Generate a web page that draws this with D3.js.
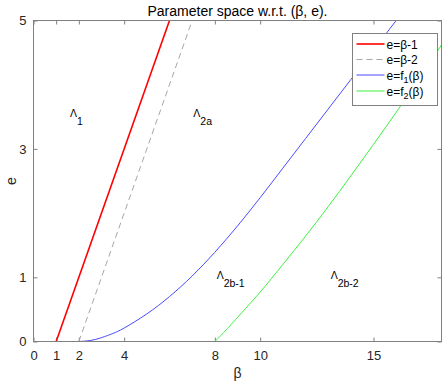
<!DOCTYPE html>
<html>
<head>
<meta charset="UTF-8">
<title>Parameter space w.r.t. (β, e).</title>
<script src="https://d3js.org/d3.v7.min.js"></script>
<style>
  body { margin: 0; background: #fff; }
  svg { font-family: "Liberation Sans", Arial, sans-serif; }
  .tick line { stroke: #808080; }
  .tick text { fill: #262626; font-size: 13px; }
</style>
</head>
<body>
<div id="chart"></div>
<script>
  // tick values
  const xTicks = [0, 1, 2, 4, 8, 10, 15];
  const yTicks = [0, 1, 3, 5];

  // e = β-1 and e = β-2 (end points inside the box)
  const line1Beta = [1, 6];
  const line1E = [0, 5];
  const line2Beta = [2, 7];
  const line2E = [0, 5];

  // e = f1(β)
  const f1Beta = [2, 2.5, 3, 3.5, 4, 5, 6, 7, 8, 9, 10, 11, 12, 13, 14, 15, 16];
  const f1E = [0, 0.015, 0.06, 0.125, 0.21, 0.43, 0.70, 1.02, 1.39, 1.80, 2.24, 2.70, 3.16, 3.62, 4.08, 4.54, 5.0];

  // e = f2(β)
  const f2Beta = [8, 8.5, 9, 10, 11, 12, 13, 14, 15, 16, 17, 18];
  const f2E = [0, 0.18, 0.375, 0.77, 1.2, 1.64, 2.1, 2.58, 3.07, 3.57, 4.08, 4.62];

  // region labels Λ_x
  const regionNames = ["1", "2a", "2b-1", "2b-2"];
  const regionBeta = [1.61, 7.05, 8.08, 13.11];
  const regionE = [3.49, 3.49, 0.97, 0.97];

  const legendMain = ["e=β-1", "e=β-2", "e=f", "e=f"];
  const legendSub = ["", "", "1", "2"];
  const legendTail = ["", "", "(β)", "(β)"];

  const W = 448, H = 386;
  const box = { left: 33.5, right: 441.5, top: 20.5, bottom: 341.5 };

  const svg = d3.select("#chart").append("svg")
    .attr("width", W).attr("height", H);

  const x = d3.scaleLinear().domain([0, 18]).range([box.left, box.right]);
  const y = d3.scaleLinear().domain([0, 5]).range([box.bottom, box.top]);

  svg.append("clipPath").attr("id", "clip")
    .append("rect")
    .attr("x", box.left).attr("y", box.top)
    .attr("width", box.right - box.left).attr("height", box.bottom - box.top);

  // axes (ticks inside, MATLAB style)
  svg.append("g")
    .attr("transform", `translate(0,${box.bottom})`)
    .call(d3.axisBottom(x).tickValues(xTicks).tickSizeInner(-4).tickSizeOuter(0).tickPadding(9.5).tickFormat(d3.format("d")))
    .call(g => g.select(".domain").remove());
  svg.append("g")
    .attr("transform", `translate(0,${box.top})`)
    .call(d3.axisTop(x).tickValues(xTicks).tickSizeInner(-4).tickSizeOuter(0).tickFormat(""))
    .call(g => g.select(".domain").remove());
  svg.append("g")
    .attr("transform", `translate(${box.left},0)`)
    .call(d3.axisLeft(y).tickValues(yTicks).tickSizeInner(-4).tickSizeOuter(0).tickPadding(7).tickFormat(d3.format("d")))
    .call(g => g.select(".domain").remove());
  svg.append("g")
    .attr("transform", `translate(${box.right},0)`)
    .call(d3.axisRight(y).tickValues(yTicks).tickSizeInner(-4).tickSizeOuter(0).tickFormat(""))
    .call(g => g.select(".domain").remove());

  const plot = svg.append("g").attr("clip-path", "url(#clip)");
  const lineGen = d3.line().x(d => x(d[0])).y(d => y(d[1]));
  const smooth = d3.line().x(d => x(d[0])).y(d => y(d[1])).curve(d3.curveNatural);

  const zipPts = (a, b) => a.map((v, i) => [v, b[i]]);

  const series = [
    { pts: zipPts(line1Beta, line1E), color: "#ff0000", width: 1.6, dash: null, gen: lineGen },
    { pts: zipPts(line2Beta, line2E), color: "#a6a6a6", width: 1, dash: "6,4", gen: lineGen },
    { pts: zipPts(f1Beta, f1E), color: "#4a4aff", width: 1, dash: null, gen: smooth },
    { pts: zipPts(f2Beta, f2E), color: "#3cf03c", width: 1, dash: null, gen: smooth }
  ];

  series.forEach(s => {
    plot.append("path")
      .attr("d", s.gen(s.pts))
      .attr("fill", "none")
      .attr("stroke", s.color)
      .attr("stroke-width", s.width)
      .attr("stroke-dasharray", s.dash);
  });

  // region labels
  regionNames.forEach((name, i) => {
    const t = svg.append("text")
      .attr("x", x(regionBeta[i]))
      .attr("y", y(regionE[i]))
      .attr("fill", "#000")
      .style("font-size", "10.5px");
    t.append("tspan").text("Λ");
    t.append("tspan").attr("dy", 7.5).text(name);
  });

  // box
  svg.append("rect")
    .attr("x", box.left).attr("y", box.top)
    .attr("width", box.right - box.left).attr("height", box.bottom - box.top)
    .attr("fill", "none").attr("stroke", "#808080").attr("stroke-width", 1);

  // title and axis labels
  svg.append("text")
    .attr("x", (box.left + box.right) / 2).attr("y", 16)
    .attr("text-anchor", "middle").attr("fill", "#000")
    .style("font-size", "14px")
    .text("Parameter space w.r.t. (β, e).");
  svg.append("text")
    .attr("x", (box.left + box.right) / 2).attr("y", 378)
    .attr("text-anchor", "middle").attr("fill", "#262626")
    .style("font-size", "14px")
    .text("β");
  svg.append("text")
    .attr("transform", `translate(16,${(box.top + box.bottom) / 2}) rotate(-90)`)
    .attr("text-anchor", "middle").attr("fill", "#262626")
    .style("font-size", "14px")
    .text("e");

  // legend
  const lg = svg.append("g");
  lg.append("rect")
    .attr("x", 352.5).attr("y", 33.5).attr("width", 85).attr("height", 72)
    .attr("fill", "#fff").attr("stroke", "#808080");
  const rowY = [44, 59.5, 75, 91];
  series.forEach((s, i) => {
    lg.append("line")
      .attr("x1", 356.5).attr("x2", 384.5)
      .attr("y1", rowY[i]).attr("y2", rowY[i])
      .attr("stroke", s.color).attr("stroke-width", s.width)
      .attr("stroke-dasharray", s.dash);
    const t = lg.append("text")
      .attr("x", 386.5).attr("y", rowY[i] + 4.5)
      .attr("fill", "#000").style("font-size", "12px");
    t.append("tspan").text(legendMain[i]);
    if (legendSub[i]) {
      t.append("tspan").attr("dy", 3).style("font-size", "9px").text(legendSub[i]);
      t.append("tspan").attr("dy", -3).text(legendTail[i]);
    }
  });
</script>
</body>
</html>
